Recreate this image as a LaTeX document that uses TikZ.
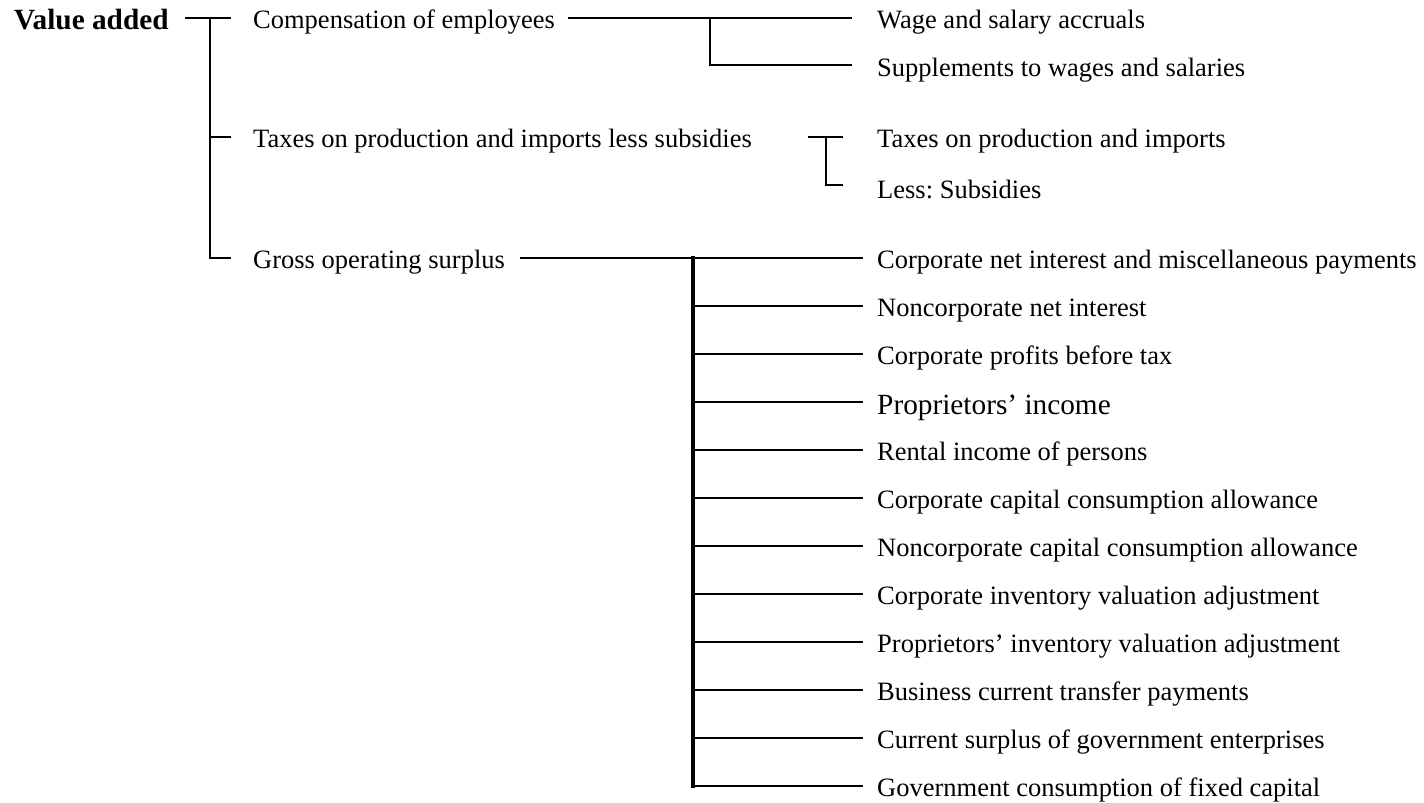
\documentclass[tikz,border=0pt]{standalone}
\usepackage{fontspec}
\setmainfont{Liberation Serif}
\frenchspacing
\begin{document}
\begin{tikzpicture}[x=1pt,y=-1pt,
  lbl/.style={anchor=base west, inner sep=0pt, font=\fontsize{26.5}{30}\selectfont},
  biglbl/.style={anchor=base west, inner sep=0pt, font=\fontsize{29.3}{33}\selectfont},
  titlelbl/.style={anchor=base west, inner sep=0pt, font=\fontsize{29.3}{33}\selectfont\bfseries},
  conn/.style={line width=2pt, line cap=rect},
  gconn/.style={line width=2.6pt, line cap=rect},
  gspine/.style={line width=3.6pt, line cap=rect}]
\useasboundingbox (0,0) rectangle (1424,803);
% level 0 and 1 labels
\node[titlelbl] (va) at (14,29) {Value added};
\node[lbl] (cmp) at (253,28) {Compensation of employees};
\node[lbl] (tax) at (253,147) {Taxes on production and imports less subsidies};
\node[lbl] (gos) at (253,268) {Gross operating surplus};
% level 2 labels
\node[lbl] (wage) at (877,28) {Wage and salary accruals};
\node[lbl] (supp) at (877,76) {Supplements to wages and salaries};
\node[lbl] (tpi) at (877,147) {Taxes on production and imports};
\node[lbl] (sub) at (877,198) {Less: Subsidies};
% gross operating surplus components
\node[lbl] (g1) at (877,268) {Corporate net interest and miscellaneous payments};
\node[lbl] (g2) at (877,316) {Noncorporate net interest};
\node[lbl] (g3) at (877,364) {Corporate profits before tax};
\node[biglbl] (g4) at (877,414) {Proprietors’ income};
\node[lbl] (g5) at (877,460) {Rental income of persons};
\node[lbl] (g6) at (877,508) {Corporate capital consumption allowance};
\node[lbl] (g7) at (877,556) {Noncorporate capital consumption allowance};
\node[lbl] (g8) at (877,604) {Corporate inventory valuation adjustment};
\node[lbl] (g9) at (877,652) {Proprietors’ inventory valuation adjustment};
\node[lbl] (g10) at (877,700) {Business current transfer payments};
\node[lbl] (g11) at (877,748) {Current surplus of government enterprises};
\node[lbl] (g12) at (877,796) {Government consumption of fixed capital};
% connector end points
\coordinate (vaE) at (186,18);
\coordinate (vaJ) at (210,18);
\coordinate (cmpW) at (230,18);
\coordinate (taxW) at (230,137);
\coordinate (gosW) at (230,258);
\coordinate (cmpE) at (569,18);
\coordinate (cmpJ) at (710,18);
\coordinate (wageW) at (851,18);
\coordinate (suppW) at (851,65);
\coordinate (taxE) at (809,137);
\coordinate (taxJ) at (826,137);
\coordinate (tpiW) at (842,137);
\coordinate (subW) at (842,185);
\coordinate (gosE) at (521,258);
\coordinate (gJ) at (693,258);
\coordinate (gB) at (693,786);
% connectors
\draw[conn] (vaE) -- (cmpW);
\draw[conn] (vaJ) |- (taxW);
\draw[conn] (vaJ) |- (gosW);
\draw[conn] (cmpE) -- (wageW);
\draw[conn] (cmpJ) |- (suppW);
\draw[conn] (taxE) -- (tpiW);
\draw[conn] (taxJ) |- (subW);
\draw[gconn] (gosE) -- (862,258);
\draw[gspine] (gJ) -- (gB);
\foreach \k in {2,...,12}{
  \pgfmathsetmacro{\yy}{258+48*(\k-1)}
  \draw[gconn] (693,\yy) -- (862,\yy);
}
\end{tikzpicture}
\end{document}
